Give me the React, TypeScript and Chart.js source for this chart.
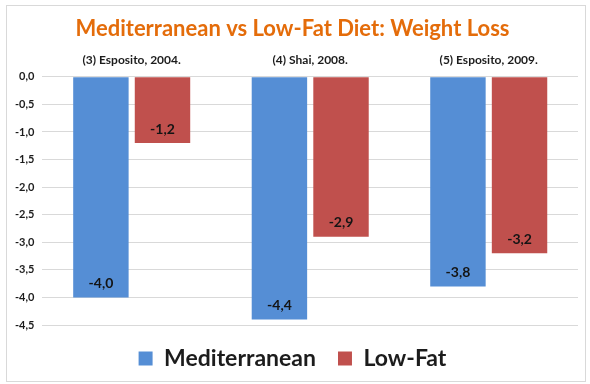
import React, { useEffect, useRef } from "react";
import { Chart, registerables } from "chart.js";

Chart.register(...registerables);

const categories = ["(3) Esposito, 2004.", "(4) Shai, 2008.", "(5) Esposito, 2009."];
const mediterranean = [-4.0, -4.4, -3.8];
const lowFat = [-1.2, -2.9, -3.2];
const seriesNames = ["Mediterranean", "Low-Fat"];
const titleText = "Mediterranean vs Low-Fat Diet: Weight Loss";

const FONT = "Lato, 'Open Sans', sans-serif";
const fmt = (v: number) => v.toFixed(1).replace(".", ",");

const valueLabels = {
  id: "valueLabels",
  afterDatasetsDraw(chart: any) {
    const ctx = chart.ctx;
    ctx.save();
    ctx.font = `bold 14px ${FONT}`;
    ctx.fillStyle = "#141414";
    ctx.textAlign = "center";
    ctx.textBaseline = "middle";
    chart.data.datasets.forEach((ds: any, i: number) => {
      const meta = chart.getDatasetMeta(i);
      meta.data.forEach((bar: any, j: number) => {
        const v = ds.data[j];
        ctx.fillText(fmt(v), bar.x, bar.y - 14);
      });
    });
    ctx.restore();
  },
};

export default function App() {
  const ref = useRef<HTMLCanvasElement>(null);
  useEffect(() => {
    document.body.style.margin = "0";
    const chart = new Chart(ref.current!, {
      type: "bar",
      data: {
        labels: categories,
        datasets: [
          {
            label: seriesNames[0],
            data: mediterranean,
            backgroundColor: "#558ED5",
            categoryPercentage: 0.69,
            barPercentage: 0.9,
          },
          {
            label: seriesNames[1],
            data: lowFat,
            backgroundColor: "#C0504D",
            categoryPercentage: 0.69,
            barPercentage: 0.9,
          },
        ],
      },
      options: {
        animation: false,
        responsive: false,
        maintainAspectRatio: false,
        layout: { padding: { left: 0, right: 7, top: 10, bottom: 1 } },
        plugins: {
          title: {
            display: true,
            text: titleText,
            color: "#E46C0A",
            font: { family: FONT, size: 22, weight: "bold" },
            padding: { top: 0, bottom: 2 },
          },
          legend: {
            position: "bottom",
            labels: {
              boxWidth: 14,
              boxHeight: 14,
              color: "#1c1c1c",
              font: { family: FONT, size: 23, weight: "bold" },
              padding: 22,
            },
          },
          tooltip: { enabled: false },
        },
        scales: {
          x: {
            position: "top",
            grid: { display: false, drawTicks: false },
            border: { display: false },
            ticks: {
              color: "#1c1c1c",
              font: { family: FONT, size: 12, weight: "bold" },
              padding: 9,
            },
          },
          y: {
            min: -4.5,
            max: 0,
            grid: { color: "#D9D9D9", drawTicks: false },
            border: { display: false },
            ticks: {
              stepSize: 0.5,
              color: "#1c1c1c",
              font: { family: FONT, size: 11, weight: "bold" },
              padding: 8,
              callback: (v: any) => fmt(Number(v)),
            },
          },
        },
      },
      plugins: [valueLabels],
    });
    return () => chart.destroy();
  }, []);
  return (
    <div
      style={{
        position: "absolute",
        left: 6,
        top: 5,
        width: 580,
        height: 377,
        border: "1px solid #D9D9D9",
        background: "#fff",
        boxSizing: "border-box",
      }}
    >
      <canvas ref={ref} width={578} height={375} style={{ display: "block" }} />
    </div>
  );
}
